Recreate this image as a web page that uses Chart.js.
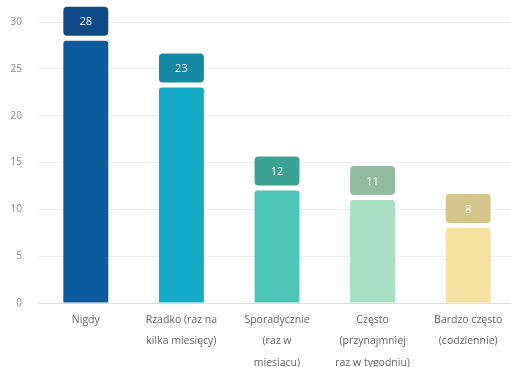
<!DOCTYPE html>
<html>
<head>
<meta charset="utf-8">
<script src="https://cdn.jsdelivr.net/npm/chart.js@4"></script>
<style>
  html, body { margin: 0; padding: 0; background: #fff; overflow: hidden; }
  .wrap { width: 516px; height: 378px; position: relative; }
</style>
</head>
<body>
<div class="wrap"><canvas id="wykres"></canvas></div>
<script>
const kategorie = [
  'Nigdy',
  ['Rzadko (raz na', 'kilka miesięcy)'],
  ['Sporadycznie', '(raz w', 'miesiącu)'],
  ['Często', '(przynajmniej', 'raz w tygodniu)'],
  ['Bardzo często', '(codziennie)']
];
const wartosci = [28, 23, 12, 11, 8];
const kolorySlupkow = ['#0b5b9e', '#14abc9', '#4dc5b9', '#a8e0c3', '#f6e29e'];
const koloryEtykiet = ['#0c4a88', '#1389a6', '#3aa394', '#92bc9f', '#d5c588'];
const podzialkaY = [0, 5, 10, 15, 20, 25, 30];

// etykiety z wartością nad słupkami
const etykietyWartosci = {
  id: 'etykietyWartosci',
  afterDatasetsDraw(chart) {
    const ctx = chart.ctx;
    const meta = chart.getDatasetMeta(0);
    meta.data.forEach((bar, i) => {
      const w = bar.width;
      const h = 29;
      const x = bar.x - w / 2;
      const y = bar.y - 5 - h;
      ctx.save();
      ctx.fillStyle = koloryEtykiet[i];
      ctx.beginPath();
      ctx.roundRect(x, y, w, h, 4);
      ctx.fill();
      ctx.fillStyle = '#ffffff';
      ctx.font = '11px "Open Sans"';
      ctx.textAlign = 'center';
      ctx.textBaseline = 'middle';
      ctx.fillText(String(wartosci[i]), bar.x, y + h / 2 + 1);
      ctx.restore();
    });
  }
};

new Chart(document.getElementById('wykres'), {
  type: 'bar',
  data: {
    labels: kategorie,
    datasets: [{
      data: wartosci,
      backgroundColor: kolorySlupkow,
      borderRadius: 3,
      borderSkipped: 'bottom',
      categoryPercentage: 1,
      barPercentage: 0.47
    }]
  },
  options: {
    responsive: true,
    maintainAspectRatio: false,
    animation: false,
    layout: { padding: { top: 22, left: 0, right: 0, bottom: 0 } },
    plugins: {
      legend: { display: false },
      tooltip: { enabled: false }
    },
    scales: {
      x: {
        afterFit: (axis) => { axis.height = 75; },
        grid: { display: false },
        border: { color: '#dddddd' },
        ticks: {
          color: '#666666',
          font: { family: 'Open Sans', size: 10.5, lineHeight: 2.05 },
          padding: -2,
          maxRotation: 0,
          autoSkip: false
        }
      },
      y: {
        min: 0,
        max: 30,
        afterBuildTicks: (axis) => { axis.ticks = podzialkaY.map(v => ({ value: v })); },
        afterFit: (axis) => { axis.width = 38; },
        grid: { color: '#eeeeee', drawTicks: false },
        border: { display: false },
        ticks: {
          color: '#8a8a8a',
          font: { family: 'Open Sans', size: 10 },
          padding: 16
        }
      }
    }
  },
  plugins: [etykietyWartosci]
});
</script>
</body>
</html>
